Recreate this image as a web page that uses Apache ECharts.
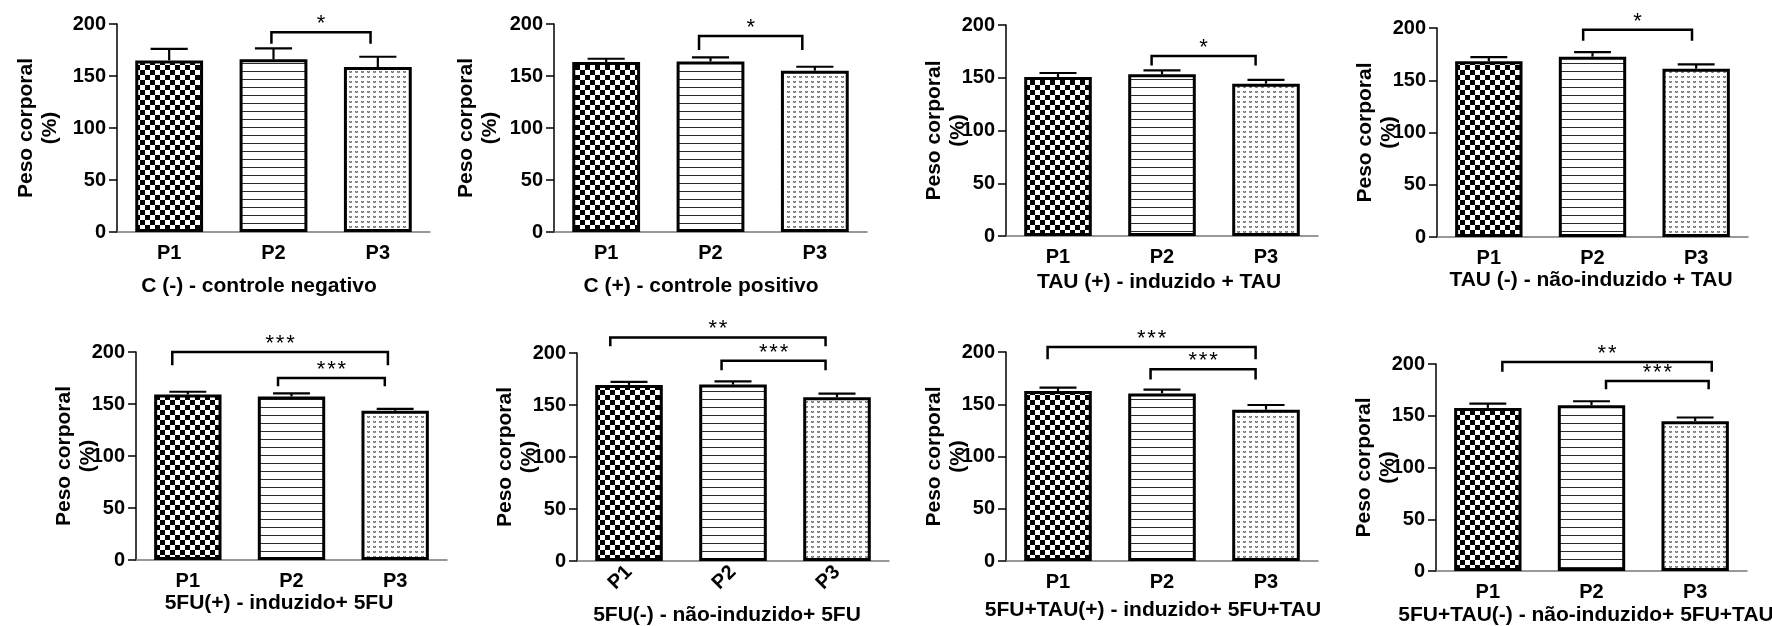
<!DOCTYPE html>
<html>
<head>
<meta charset="utf-8">
<script src="https://cdn.jsdelivr.net/npm/echarts@6/dist/echarts.min.js"></script>
<style>
html,body{margin:0;padding:0;background:#fff;}
#chart{width:1772px;height:626px;}
</style>
</head>
<body>
<div id="chart"></div>
<script>
// ---------- DATA ----------
const categories = ['P1', 'P2', 'P3'];
const yTickValues = [0, 50, 100, 150, 200];
const panelTitles = [
  'C (-) - controle negativo',
  'C (+) - controle positivo',
  'TAU (+) - induzido + TAU',
  'TAU (-) - não-induzido + TAU',
  '5FU(+) - induzido+ 5FU',
  '5FU(-) - não-induzido+ 5FU',
  '5FU+TAU(+) - induzido+ 5FU+TAU',
  '5FU+TAU(-) - não-induzido+ 5FU+TAU'
];
const yAxisName = 'Peso corporal\n(%)';
const means = [
  [165.0, 166.0, 158.6],
  [163.4, 164.0, 155.1],
  [150.7, 153.2, 144.4],
  [168.3, 172.5, 161.0],
  [159.2, 157.3, 143.5],
  [169.3, 169.6, 157.4],
  [162.7, 160.4, 144.8],
  [157.6, 160.2, 144.8]
];
const sems = [
  [11.0, 10.6, 9.9],
  [3.2, 4.0, 3.8],
  [3.8, 3.8, 3.5],
  [3.9, 4.5, 4.1],
  [2.6, 2.9, 1.9],
  [2.9, 3.2, 3.6],
  [3.2, 3.6, 4.5],
  [4.2, 3.8, 3.5]
];
// significance brackets: [from (category position), to (category position), top value, leg end value, label]
const brackets = [
  [[0.98, 1.93, 192.0, 181.0, '*']],
  [[0.89, 1.88, 188.4, 175.0, '*']],
  [[0.90, 1.90, 170.6, 161.7, '*']],
  [[0.91, 1.96, 198.4, 187.8, '*']],
  [[-0.15, 1.93, 200.0, 187.2, '***'], [0.87, 1.90, 175.0, 167.0, '***']],
  [[-0.18, 1.89, 215.0, 206.4, '**'], [0.89, 1.89, 192.6, 183.4, '***']],
  [[-0.10, 1.90, 204.8, 193.0, '***'], [0.89, 1.90, 183.4, 173.8, '***']],
  [[0.14, 2.16, 202.0, 192.6, '**'], [1.14, 2.13, 183.6, 175.6, '***']]
];

// ---------- LAYOUT (positions / styles) ----------
const gridBoxes = [
  {left: 117, top: 24, width: 313, height: 208},
  {left: 554, top: 24, width: 313, height: 208},
  {left: 1006, top: 25, width: 312, height: 211},
  {left: 1437, top: 28, width: 311, height: 209},
  {left: 136, top: 352, width: 311, height: 208},
  {left: 577, top: 353, width: 312, height: 208},
  {left: 1006, top: 352, width: 312, height: 209},
  {left: 1436, top: 364, width: 311, height: 207}
];
const nameGaps = [55, 52, 36, 36, 36, 36, 36, 36];
const titlePos = [[259, 286], [701, 286], [1159, 282], [1591, 280], [279, 603], [727, 615], [1153, 610], [1586, 615]];
const labelRotate = [0, 0, 0, 0, 0, 45, 0, 0];
const FONT = '"Liberation Sans", Arial, Helvetica, sans-serif';

// ---------- PATTERNS ----------
function makeCanvas(w, h) {
  const c = document.createElement('canvas');
  c.width = w; c.height = h;
  return c;
}
function checker() {
  const c = makeCanvas(10, 10), g = c.getContext('2d');
  g.fillStyle = '#fff'; g.fillRect(0, 0, 10, 10);
  g.fillStyle = '#000'; g.fillRect(0, 0, 5, 5); g.fillRect(5, 5, 5, 5);
  return c;
}
function hlines() {
  const c = makeCanvas(8, 8), g = c.getContext('2d');
  g.fillStyle = '#fff'; g.fillRect(0, 0, 8, 8);
  g.fillStyle = '#2a2a2a'; g.fillRect(0, 7, 8, 1);
  return c;
}
function dots() {
  const c = makeCanvas(6, 5), g = c.getContext('2d');
  g.fillStyle = '#fff'; g.fillRect(0, 0, 6, 5);
  g.fillStyle = '#6e6e6e';
  g.fillRect(1, 1, 1, 1); g.fillRect(3, 1, 1, 1); g.fillRect(2, 2, 1, 1);
  g.fillStyle = '#a8a8a8';
  g.fillRect(1, 2, 1, 1); g.fillRect(3, 2, 1, 1); g.fillRect(2, 1, 1, 1);
  return c;
}
const patterns = [
  {image: checker(), repeat: 'repeat'},
  {image: hlines(), repeat: 'repeat'},
  {image: dots(), repeat: 'repeat'}
];

// ---------- OPTION ----------
const grids = [], xAxes = [], yAxes = [], series = [], graphics = [];
for (let p = 0; p < 8; p++) {
  grids.push(Object.assign({containLabel: false}, gridBoxes[p]));
  xAxes.push({
    type: 'category', gridIndex: p, data: categories, boundaryGap: true,
    axisLine: {lineStyle: {color: '#777', width: 1.5}},
    axisTick: {alignWithLabel: true, length: 7, lineStyle: {color: '#444', width: 1.5}},
    axisLabel: {color: '#000', fontFamily: FONT, fontWeight: 'bold', fontSize: 20,
      margin: labelRotate[p] ? 8 : 11, rotate: labelRotate[p]},
    splitLine: {show: false}
  });
  yAxes.push({
    type: 'value', gridIndex: p, min: yTickValues[0], max: yTickValues[yTickValues.length - 1],
    interval: yTickValues[1] - yTickValues[0],
    name: yAxisName, nameLocation: 'middle', nameGap: nameGaps[p], nameMoveOverlap: false,
    nameTextStyle: {color: '#000', fontFamily: FONT, fontWeight: 'bold', fontSize: 21, lineHeight: 24},
    axisLine: {show: true, lineStyle: {color: '#000', width: 1.5}},
    axisTick: {show: true, length: 8, lineStyle: {color: '#000', width: 1.5}},
    axisLabel: {color: '#000', fontFamily: FONT, fontWeight: 'bold', fontSize: 20, margin: 11},
    splitLine: {show: false}
  });
  series.push({
    type: 'bar', xAxisIndex: p, yAxisIndex: p, barWidth: '65%', z: 2,
    data: means[p].map((v, i) => ({value: v, itemStyle: {color: patterns[i]}})),
    itemStyle: {borderColor: '#000', borderWidth: 3},
    emphasis: {disabled: true}, silent: true
  });
  series.push({
    type: 'custom', xAxisIndex: p, yAxisIndex: p, z: 3, silent: true,
    data: means[p].map((v, i) => [i, v, sems[p][i]]),
    encode: {x: 0, y: 1},
    renderItem: function (params, api) {
      const i = api.value(0), m = api.value(1), e = api.value(2);
      const base = api.coord([i, m]);
      const top = api.coord([i, m + e]);
      const half = api.size([1, 0])[0] * 0.178;
      return {
        type: 'group',
        children: [
          {type: 'line', shape: {x1: base[0], y1: base[1], x2: top[0], y2: top[1]},
            style: {stroke: '#000', lineWidth: 2.2}},
          {type: 'line', shape: {x1: top[0] - half, y1: top[1], x2: top[0] + half, y2: top[1]},
            style: {stroke: '#000', lineWidth: 2.2}}
        ]
      };
    }
  });
  series.push({
    type: 'custom', xAxisIndex: p, yAxisIndex: p, z: 4, silent: true, clip: false,
    data: brackets[p].map(b => [1, b[2]]),
    encode: {x: 0, y: 1},
    renderItem: (function (pp) {
      return function (params, api) {
        const b = brackets[pp][params.dataIndex];
        const c0 = api.coord([0, b[2]]);
        const c1 = api.coord([1, b[2]]);
        const band = c1[0] - c0[0];
        const X1 = c0[0] + b[0] * band;
        const X2 = c0[0] + b[1] * band;
        const Yt = c0[1];
        const Yl = api.coord([0, b[3]])[1];
        return {
          type: 'group',
          children: [
            {type: 'polyline', shape: {points: [[X1, Yl], [X1, Yt], [X2, Yt], [X2, Yl]]},
              style: {stroke: '#000', lineWidth: 2.5, fill: null}},
            {type: 'text', x: (X1 + X2) / 2, y: Yt - 8,
              style: {text: b[4].split('').join('\u200A'), fill: '#000', font: '22px ' + FONT,
                align: 'center', verticalAlign: 'middle'}}
          ]
        };
      };
    })(p)
  });
  graphics.push({
    type: 'text', x: titlePos[p][0], y: titlePos[p][1], silent: true,
    style: {text: panelTitles[p], fill: '#000', font: 'bold 21px ' + FONT,
      align: 'center', verticalAlign: 'middle'}
  });
}

const chart = echarts.init(document.getElementById('chart'), null, {renderer: 'canvas', width: 1772, height: 626});
chart.setOption({
  backgroundColor: '#fff',
  animation: false,
  grid: grids,
  xAxis: xAxes,
  yAxis: yAxes,
  series: series,
  graphic: graphics
});
</script>
</body>
</html>
